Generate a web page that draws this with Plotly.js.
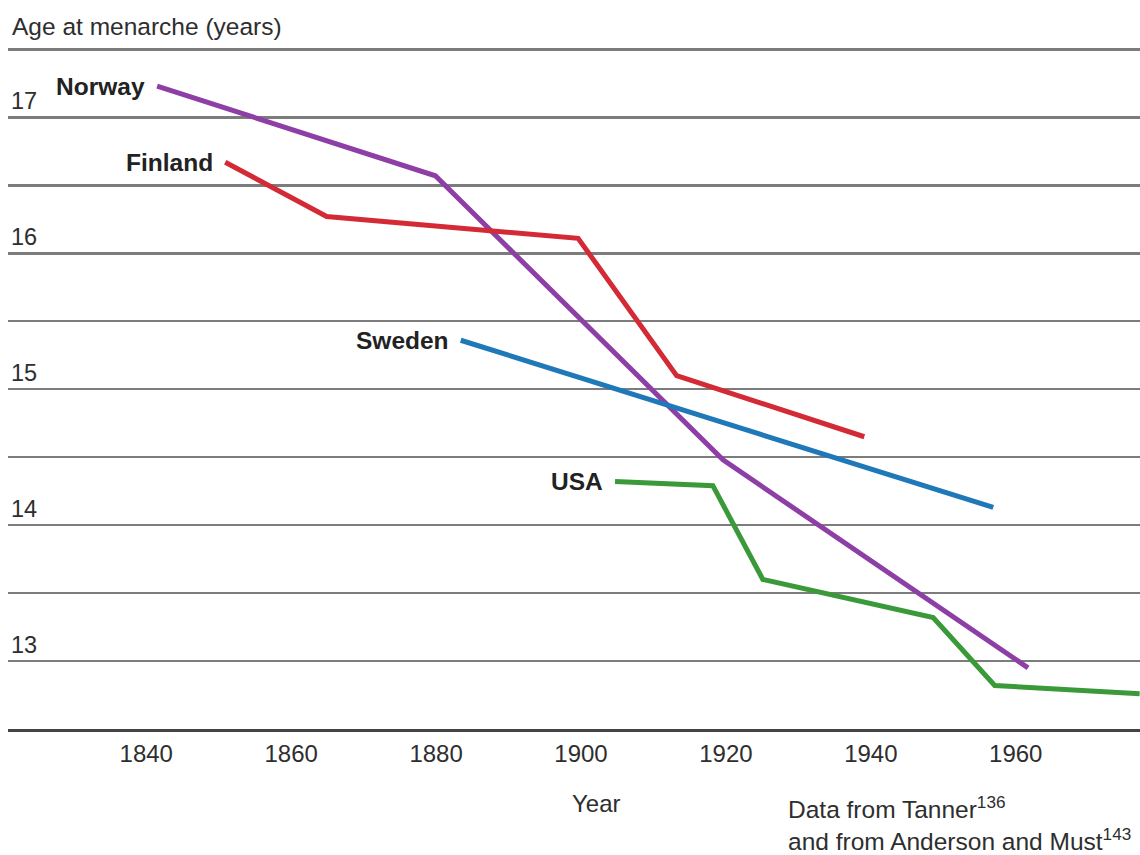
<!DOCTYPE html>
<html>
<head>
<meta charset="utf-8">
<script src="https://cdn.plot.ly/plotly-3.0.1.min.js"></script>
<style>html,body{margin:0;padding:0;background:#fff;}#chart{width:1140px;height:855px;}</style>
</head>
<body>
<div id="chart"></div>
<script>
// Data
const countries = ["Norway", "Finland", "Sweden", "USA"];
const norwayYear = [1841.5, 1879.9, 1919.6, 1961.7];
const norwayAge = [17.23, 16.57, 14.48, 12.95];
const finlandYear = [1850.9, 1864.9, 1899.6, 1913.2, 1939.1];
const finlandAge = [16.67, 16.27, 16.11, 15.10, 14.65];
const swedenYear = [1883.4, 1956.9];
const swedenAge = [15.36, 14.13];
const usaYear = [1904.7, 1918.2, 1925.1, 1948.6, 1957.1, 1977.1];
const usaAge = [14.32, 14.29, 13.60, 13.32, 12.82, 12.76];
const xTicks = [1840, 1860, 1880, 1900, 1920, 1940, 1960];
const yTicks = [13, 14, 15, 16, 17];
const colors = ["#8e3fa6", "#d42a35", "#1f78b8", "#3a9a3a"];

const seriesX = [norwayYear, finlandYear, swedenYear, usaYear];
const seriesY = [norwayAge, finlandAge, swedenAge, usaAge];

const FONT = "Liberation Sans, Arial, Helvetica, sans-serif";
const TXT = "#2e2e2e";

const traces = countries.map((name, i) => ({
  type: "scatter",
  mode: "lines",
  name: name,
  x: seriesX[i],
  y: seriesY[i],
  line: {color: colors[i], width: 5},
  hoverinfo: "skip"
}));

const labelAnn = countries.map((name, i) => ({
  x: seriesX[i][0],
  y: seriesY[i][0],
  xref: "x", yref: "y",
  text: name,
  showarrow: false,
  xanchor: "right",
  yanchor: "middle",
  xshift: -10,
  font: {family: FONT, size: 24.5, color: "#222222", weight: "bold"}
}));

const layout = {
  width: 1140,
  height: 855,
  margin: {l: 8, r: 0, t: 48, b: 126},
  paper_bgcolor: "#ffffff",
  plot_bgcolor: "#ffffff",
  showlegend: false,
  font: {family: FONT, size: 24, color: TXT},
  title: {
    text: "Age at menarche (years)",
    font: {family: FONT, size: 24.5, color: TXT},
    xref: "container", x: 12 / 1140, xanchor: "left",
    yref: "container", y: 1 - 26 / 855, yanchor: "middle"
  },
  xaxis: {
    range: [1820.92, 1977.15],
    tickvals: xTicks,
    ticktext: xTicks.map(String),
    showgrid: false,
    zeroline: false,
    showline: true,
    linecolor: "#444444",
    linewidth: 3,
    ticks: "",
    tickfont: {family: FONT, size: 24, color: TXT},
    ticklabelstandoff: 1,
    fixedrange: true
  },
  yaxis: {
    range: [12.5, 17.51],
    tickvals: yTicks,
    ticktext: yTicks.map(String),
    showgrid: true,
    gridcolor: "#7c7c7c",
    gridwidth: 2.5,
    zeroline: false,
    showline: false,
    ticks: "",
    ticklabelposition: "inside top",
    tickfont: {family: FONT, size: 23.5, color: TXT},
    minor: {dtick: 0.5, tick0: 12.5, showgrid: true, gridcolor: "#7c7c7c", gridwidth: 2.5, ticks: ""},
    fixedrange: true
  },
  annotations: labelAnn.concat([
    {
      xref: "paper", yref: "paper",
      x: (596.5 - 8) / 1132, y: (729 - 803) / 680,
      text: "Year", showarrow: false,
      xanchor: "center", yanchor: "middle",
      font: {family: FONT, size: 24, color: TXT}
    },
    {
      xref: "paper", yref: "paper",
      x: (786 - 8) / 1132, y: (729 - 807) / 680,
      text: "Data from Tanner<sup>136</sup>", showarrow: false,
      xanchor: "left", yanchor: "middle", align: "left",
      font: {family: FONT, size: 24.5, color: TXT}
    },
    {
      xref: "paper", yref: "paper",
      x: (786 - 8) / 1132, y: (729 - 839) / 680,
      text: "and from Anderson and Must<sup>143</sup>", showarrow: false,
      xanchor: "left", yanchor: "middle", align: "left",
      font: {family: FONT, size: 24.5, color: TXT}
    }
  ])
};

Plotly.newPlot("chart", traces, layout, {displayModeBar: false, staticPlot: true});
</script>
</body>
</html>
